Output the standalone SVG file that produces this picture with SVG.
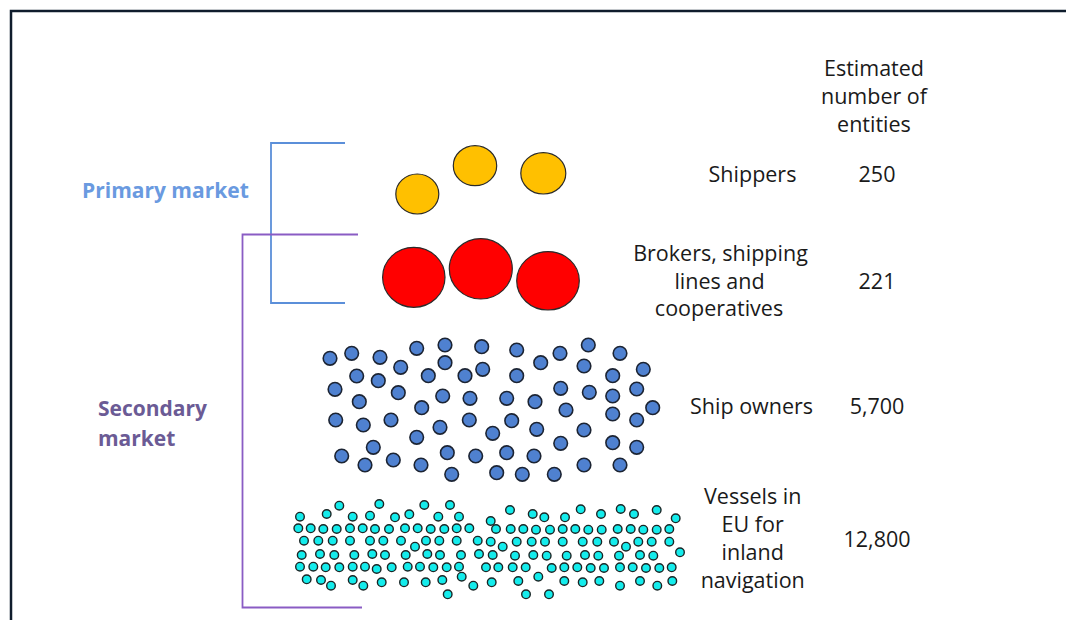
<svg xmlns="http://www.w3.org/2000/svg" width="1066" height="620" viewBox="0 0 1066 620">
<style>
.lbl{font-family:"Open Sans","Liberation Sans",sans-serif;font-size:21.5px;fill:#1a1a1a;text-anchor:middle}
.mk{font-family:"Open Sans","Liberation Sans",sans-serif;font-size:21px;font-weight:bold}
.y{fill:#ffc000;stroke:#2a2a2a;stroke-width:1.2}
.r{fill:#ff0000;stroke:#2a2a2a;stroke-width:1.2}
.b circle{fill:#4f81d0;stroke:#1c2433;stroke-width:1.6}
.c circle{fill:#14ecec;stroke:#1a2626;stroke-width:1.4}
</style>
<rect width="1066" height="620" fill="#ffffff"/>
<path d="M11 620 V11 H1066" fill="none" stroke="#0f1c2c" stroke-width="2.5"/>
<g id="connectors" fill="none">
<path d="M345 143 H271 V303 H345" stroke="#5b8fd9" stroke-width="1.8"/>
<path d="M358 234.5 H242.5 V607.5 H362" stroke="#8a5cc4" stroke-width="1.8"/>
</g>
<g id="primary-market"><text class="mk" x="82" y="198" fill="#6a9ae0">Primary market</text></g>
<g id="secondary-market"><text class="mk" x="98" y="416" fill="#6b5b95">Secondary</text><text class="mk" x="98" y="446" fill="#6b5b95">market</text></g>
<g id="header"><text class="lbl" x="874" y="76">Estimated</text><text class="lbl" x="874" y="104">number of</text><text class="lbl" x="874" y="132">entities</text></g>
<g id="shippers">
<ellipse class="y" cx="417.3" cy="194" rx="21.5" ry="20"/>
<ellipse class="y" cx="475" cy="165.7" rx="21.7" ry="20"/>
<ellipse class="y" cx="543.3" cy="173.3" rx="22.5" ry="20.7"/>
<text class="lbl" x="752.5" y="182">Shippers</text><text class="lbl" x="877" y="182">250</text>
</g>
<g id="brokers">
<ellipse class="r" cx="413.8" cy="277.3" rx="31.2" ry="30"/>
<ellipse class="r" cx="480.8" cy="268.8" rx="31.5" ry="30.2"/>
<ellipse class="r" cx="548" cy="280.8" rx="31.3" ry="29.2"/>
<text class="lbl" x="720.5" y="261">Brokers, shipping</text><text class="lbl" x="719.5" y="288.5">lines and</text><text class="lbl" x="719" y="316">cooperatives</text><text class="lbl" x="877" y="289">221</text>
</g>
<g id="ship-owners">
<g class="b">
<circle cx="330" cy="358.3" r="6.8"/><circle cx="351.7" cy="353.3" r="6.8"/><circle cx="380" cy="357.3" r="6.8"/><circle cx="416.7" cy="348.3" r="6.8"/><circle cx="445" cy="345" r="6.8"/><circle cx="481.7" cy="346.7" r="6.8"/><circle cx="516.7" cy="350" r="6.8"/><circle cx="560" cy="353.3" r="6.8"/><circle cx="588.3" cy="345" r="6.8"/><circle cx="620" cy="353.3" r="6.8"/>
<circle cx="356.7" cy="376" r="6.8"/><circle cx="378.3" cy="380.7" r="6.8"/><circle cx="400.7" cy="367.3" r="6.8"/><circle cx="428.3" cy="375.7" r="6.8"/><circle cx="445" cy="362.7" r="6.8"/><circle cx="465" cy="375.7" r="6.8"/><circle cx="482.7" cy="369.3" r="6.8"/><circle cx="516.7" cy="375.7" r="6.8"/><circle cx="540.7" cy="362.7" r="6.8"/><circle cx="584" cy="366" r="6.8"/><circle cx="612.7" cy="375.7" r="6.8"/><circle cx="643.3" cy="369.3" r="6.8"/>
<circle cx="335" cy="389.3" r="6.8"/><circle cx="359.3" cy="401.7" r="6.8"/><circle cx="398.3" cy="392.7" r="6.8"/><circle cx="421.7" cy="407.7" r="6.8"/><circle cx="442.7" cy="396" r="6.8"/><circle cx="470" cy="398.3" r="6.8"/><circle cx="506.7" cy="398.3" r="6.8"/><circle cx="535" cy="401.7" r="6.8"/><circle cx="560.7" cy="388.3" r="6.8"/><circle cx="589.3" cy="392.3" r="6.8"/><circle cx="612.7" cy="396" r="6.8"/><circle cx="636.7" cy="389" r="6.8"/><circle cx="652.7" cy="407.7" r="6.8"/>
<circle cx="335.7" cy="420" r="6.8"/><circle cx="363.3" cy="425" r="6.8"/><circle cx="391" cy="420" r="6.8"/><circle cx="440" cy="427.3" r="6.8"/><circle cx="469.3" cy="420" r="6.8"/><circle cx="511.7" cy="420.7" r="6.8"/><circle cx="492.7" cy="433.3" r="6.8"/><circle cx="536.7" cy="429.3" r="6.8"/><circle cx="566" cy="410" r="6.8"/><circle cx="584" cy="430" r="6.8"/><circle cx="612.7" cy="414" r="6.8"/><circle cx="636.7" cy="420" r="6.8"/>
<circle cx="416.7" cy="437.3" r="6.8"/><circle cx="373.3" cy="447.3" r="6.8"/><circle cx="560.7" cy="443.3" r="6.8"/><circle cx="612.7" cy="442.7" r="6.8"/><circle cx="636.7" cy="447.3" r="6.8"/>
<circle cx="341.7" cy="456" r="6.8"/><circle cx="365" cy="465" r="6.8"/><circle cx="393.3" cy="460" r="6.8"/><circle cx="421" cy="465" r="6.8"/><circle cx="447.3" cy="452.7" r="6.8"/><circle cx="475.7" cy="456" r="6.8"/><circle cx="506.7" cy="452.7" r="6.8"/><circle cx="534" cy="456" r="6.8"/><circle cx="451.7" cy="474.3" r="6.8"/><circle cx="496.7" cy="472.7" r="6.8"/><circle cx="522.3" cy="474.3" r="6.8"/><circle cx="554.3" cy="474.3" r="6.8"/><circle cx="584" cy="465" r="6.8"/><circle cx="620" cy="465" r="6.8"/>
</g>
<text class="lbl" x="751.5" y="413.5">Ship owners</text><text class="lbl" x="877" y="413.5">5,700</text>
</g>
<g id="vessels">
<g class="c">
<circle cx="339.3" cy="505.7" r="4.3"/><circle cx="379.3" cy="504" r="4.3"/><circle cx="424.3" cy="505" r="4.3"/><circle cx="450" cy="505" r="4.3"/>
<circle cx="300" cy="516.7" r="4.3"/><circle cx="326.7" cy="514" r="4.3"/><circle cx="352.7" cy="516.7" r="4.3"/><circle cx="370" cy="515.7" r="4.3"/><circle cx="395" cy="517.3" r="4.3"/><circle cx="409.3" cy="514.3" r="4.3"/><circle cx="438.3" cy="516.7" r="4.3"/><circle cx="459" cy="516.7" r="4.3"/>
<circle cx="298.3" cy="528.3" r="4.3"/><circle cx="310.7" cy="528.3" r="4.3"/><circle cx="323.3" cy="529" r="4.3"/><circle cx="336.7" cy="529" r="4.3"/><circle cx="350" cy="528.3" r="4.3"/><circle cx="362.7" cy="528.3" r="4.3"/><circle cx="375" cy="529" r="4.3"/><circle cx="389" cy="529" r="4.3"/><circle cx="405" cy="528.3" r="4.3"/><circle cx="417.7" cy="528.3" r="4.3"/><circle cx="430.7" cy="529" r="4.3"/><circle cx="444.3" cy="529" r="4.3"/><circle cx="456.7" cy="528.3" r="4.3"/><circle cx="469.3" cy="528.3" r="4.3"/>
<circle cx="304" cy="540.7" r="4.3"/><circle cx="318.3" cy="540.7" r="4.3"/><circle cx="332.7" cy="540.7" r="4.3"/><circle cx="350" cy="540.7" r="4.3"/><circle cx="370" cy="540.7" r="4.3"/><circle cx="383.3" cy="540.7" r="4.3"/><circle cx="401" cy="540.7" r="4.3"/><circle cx="415" cy="546.7" r="4.3"/><circle cx="426" cy="540.7" r="4.3"/><circle cx="439.3" cy="540.7" r="4.3"/><circle cx="456.7" cy="540.7" r="4.3"/><circle cx="477.7" cy="540.7" r="4.3"/>
<circle cx="301.7" cy="555" r="4.3"/><circle cx="320" cy="554" r="4.3"/><circle cx="334.3" cy="555" r="4.3"/><circle cx="354.3" cy="555" r="4.3"/><circle cx="372.3" cy="554" r="4.3"/><circle cx="385" cy="555" r="4.3"/><circle cx="405.7" cy="555" r="4.3"/><circle cx="427.3" cy="554" r="4.3"/><circle cx="440" cy="555" r="4.3"/><circle cx="461" cy="555" r="4.3"/><circle cx="479" cy="554" r="4.3"/>
<circle cx="300" cy="566.7" r="4.3"/><circle cx="313.3" cy="566.7" r="4.3"/><circle cx="325.7" cy="567.3" r="4.3"/><circle cx="339.3" cy="567.3" r="4.3"/><circle cx="352.7" cy="566.7" r="4.3"/><circle cx="365" cy="566.7" r="4.3"/><circle cx="376.7" cy="569" r="4.3"/><circle cx="391.7" cy="567.3" r="4.3"/><circle cx="407.7" cy="566.7" r="4.3"/><circle cx="420" cy="566.7" r="4.3"/><circle cx="433.3" cy="567.3" r="4.3"/><circle cx="446.7" cy="567.3" r="4.3"/><circle cx="459" cy="566.7" r="4.3"/>
<circle cx="306.7" cy="579.3" r="4.3"/><circle cx="321" cy="580" r="4.3"/><circle cx="331" cy="585.7" r="4.3"/><circle cx="352.7" cy="580" r="4.3"/><circle cx="363.3" cy="585.7" r="4.3"/><circle cx="381.7" cy="582.3" r="4.3"/><circle cx="404" cy="582.3" r="4.3"/><circle cx="425.7" cy="582.3" r="4.3"/><circle cx="442.3" cy="580" r="4.3"/><circle cx="461.7" cy="576.7" r="4.3"/><circle cx="473.3" cy="585.7" r="4.3"/><circle cx="447.7" cy="594.3" r="4.3"/>
<circle cx="510" cy="510" r="4.3"/><circle cx="532.7" cy="514" r="4.3"/><circle cx="544.3" cy="517.3" r="4.3"/><circle cx="565" cy="517.3" r="4.3"/><circle cx="580.7" cy="509.3" r="4.3"/><circle cx="601" cy="514" r="4.3"/><circle cx="620.7" cy="509" r="4.3"/><circle cx="634" cy="514" r="4.3"/><circle cx="656.7" cy="510" r="4.3"/><circle cx="675.7" cy="518.3" r="4.3"/><circle cx="490.7" cy="521" r="4.3"/>
<circle cx="496" cy="529" r="4.3"/><circle cx="510.7" cy="529" r="4.3"/><circle cx="523.3" cy="529" r="4.3"/><circle cx="536" cy="529.7" r="4.3"/><circle cx="550" cy="529.7" r="4.3"/><circle cx="562.7" cy="529" r="4.3"/><circle cx="575.3" cy="529" r="4.3"/><circle cx="588.3" cy="529.7" r="4.3"/><circle cx="601.7" cy="529.7" r="4.3"/><circle cx="617.7" cy="529" r="4.3"/><circle cx="630.7" cy="529" r="4.3"/><circle cx="643.3" cy="529.7" r="4.3"/><circle cx="656.7" cy="529.7" r="4.3"/><circle cx="669.3" cy="529" r="4.3"/>
<circle cx="490.7" cy="541.7" r="4.3"/><circle cx="502.7" cy="546.7" r="4.3"/><circle cx="516.7" cy="541.7" r="4.3"/><circle cx="531.7" cy="541.7" r="4.3"/><circle cx="545" cy="541.7" r="4.3"/><circle cx="562.7" cy="541.7" r="4.3"/><circle cx="582.7" cy="541.7" r="4.3"/><circle cx="597.3" cy="541.7" r="4.3"/><circle cx="614" cy="541.7" r="4.3"/><circle cx="626" cy="546.7" r="4.3"/><circle cx="638.3" cy="541.7" r="4.3"/><circle cx="651.7" cy="541.7" r="4.3"/><circle cx="669.3" cy="541.7" r="4.3"/><circle cx="680" cy="552.3" r="4.3"/>
<circle cx="492.7" cy="555" r="4.3"/><circle cx="515" cy="555.7" r="4.3"/><circle cx="533.3" cy="555" r="4.3"/><circle cx="546.7" cy="555.7" r="4.3"/><circle cx="566.7" cy="555.7" r="4.3"/><circle cx="585" cy="555" r="4.3"/><circle cx="598.3" cy="555.7" r="4.3"/><circle cx="619" cy="555.7" r="4.3"/><circle cx="640" cy="555" r="4.3"/><circle cx="653.3" cy="555.7" r="4.3"/>
<circle cx="486" cy="567.3" r="4.3"/><circle cx="498.3" cy="567.3" r="4.3"/><circle cx="512.7" cy="567.3" r="4.3"/><circle cx="525.7" cy="567.3" r="4.3"/><circle cx="551.7" cy="568" r="4.3"/><circle cx="564.3" cy="567.3" r="4.3"/><circle cx="577.3" cy="567.3" r="4.3"/><circle cx="590.7" cy="568" r="4.3"/><circle cx="604" cy="568" r="4.3"/><circle cx="620" cy="567.3" r="4.3"/><circle cx="632.7" cy="567.3" r="4.3"/><circle cx="646" cy="568" r="4.3"/><circle cx="659.3" cy="568" r="4.3"/><circle cx="671.7" cy="567.3" r="4.3"/>
<circle cx="491.7" cy="582.3" r="4.3"/><circle cx="518.3" cy="581" r="4.3"/><circle cx="538.3" cy="576.7" r="4.3"/><circle cx="564.3" cy="581" r="4.3"/><circle cx="582.7" cy="582.3" r="4.3"/><circle cx="599.3" cy="581" r="4.3"/><circle cx="620" cy="585.7" r="4.3"/><circle cx="640" cy="581" r="4.3"/><circle cx="657.3" cy="585.7" r="4.3"/><circle cx="672.3" cy="581" r="4.3"/>
<circle cx="526" cy="594.3" r="4.3"/><circle cx="549" cy="594.3" r="4.3"/>
</g>
<text class="lbl" x="752.7" y="503.5">Vessels in</text><text class="lbl" x="752.7" y="532">EU for</text><text class="lbl" x="752.7" y="560">inland</text><text class="lbl" x="752.7" y="588">navigation</text><text class="lbl" x="877" y="547">12,800</text>
</g>
</svg>
